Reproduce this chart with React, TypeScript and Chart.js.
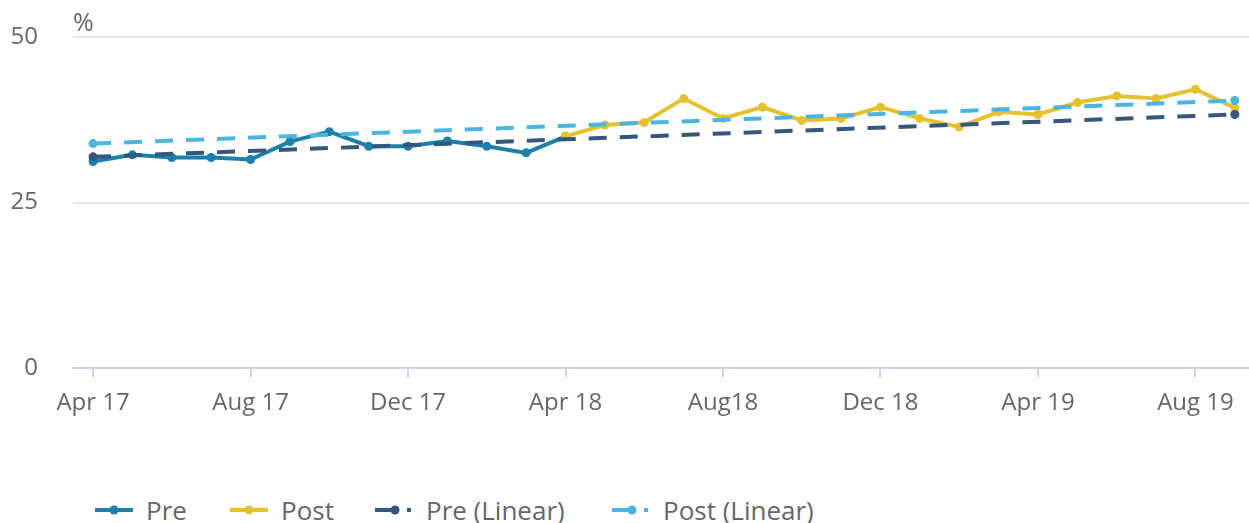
import React, { useEffect, useRef } from "react";
import { Chart, registerables } from "chart.js";

Chart.register(...registerables);

const months = [
  "Apr 17", "May 17", "Jun 17", "Jul 17", "Aug 17", "Sep 17", "Oct 17", "Nov 17", "Dec 17", "Jan 18",
  "Feb 18", "Mar 18", "Apr 18", "May 18", "Jun 18", "Jul 18", "Aug18", "Sep 18", "Oct 18", "Nov 18",
  "Dec 18", "Jan 19", "Feb 19", "Mar 19", "Apr 19", "May 19", "Jun 19", "Jul 19", "Aug 19", "Sep 19",
];
const tickMonths = ["Apr 17", "Aug 17", "Dec 17", "Apr 18", "Aug18", "Dec 18", "Apr 19", "Aug 19"];

const preStart = "Apr 17";
const preValues = [31.2, 32.2, 31.8, 31.8, 31.5, 34.2, 35.7, 33.5, 33.5, 34.3, 33.5, 32.5, 35.0];

const postStart = "Apr 18";
const postValues = [35.0, 36.7, 37.1, 40.7, 37.7, 39.4, 37.4, 37.7, 39.4, 37.7, 36.4, 38.7, 38.3, 40.1, 41.1, 40.7, 42.1, 39.3];

const trendMonths = ["Apr 17", "Sep 19"];
const preLinear = [31.9, 38.3];
const postLinear = [33.9, 40.4];

const yTicks = [0, 25, 50];
const yUnit = "%";

const COLORS = {
  pre: "#1c80a9",
  post: "#e5c12f",
  preLin: "#35577b",
  postLin: "#4cb4e0",
};

const FONT = '"Open Sans", "Noto Sans", sans-serif';

function series(start: string, values: number[]) {
  const s = months.indexOf(start);
  return values.map((v, i) => ({ x: s + i, y: v }));
}
function trend(values: number[]) {
  return values.map((v, i) => ({ x: months.indexOf(trendMonths[i]), y: v }));
}

const legendItems = [
  { label: "Pre", color: COLORS.pre, dashed: false, left: 95 },
  { label: "Post", color: COLORS.post, dashed: false, left: 230 },
  { label: "Pre (Linear)", color: COLORS.preLin, dashed: true, left: 375 },
  { label: "Post (Linear)", color: COLORS.postLin, dashed: true, left: 612 },
];

export default function App() {
  const ref = useRef<HTMLCanvasElement | null>(null);

  useEffect(() => {
    if (!ref.current) return;
    const unitPlugin = {
      id: "unitLabel",
      afterDraw(chart: any) {
        const { ctx, chartArea } = chart;
        ctx.save();
        ctx.font = `25px ${FONT}`;
        ctx.fillStyle = "#666666";
        ctx.textAlign = "left";
        ctx.textBaseline = "alphabetic";
        ctx.fillText(yUnit, chartArea.left, chartArea.top - 6);
        ctx.restore();
      },
    };
    const line = (label: string, data: any[], color: string, order: number, dashed: boolean) => ({
      label,
      data,
      borderColor: color,
      backgroundColor: color,
      pointBackgroundColor: color,
      pointBorderColor: color,
      pointBorderWidth: 0,
      pointRadius: 4.5,
      borderWidth: 4,
      borderDash: dashed ? [18, 13] : [],
      tension: 0,
      fill: false,
      order,
      clip: false as any,
    });
    const chart = new Chart(ref.current, {
      type: "line",
      data: {
        datasets: [
          line("Pre", series(preStart, preValues), COLORS.pre, 3, false),
          line("Post", series(postStart, postValues), COLORS.post, 2, false),
          line("Pre (Linear)", trend(preLinear), COLORS.preLin, 1, true),
          line("Post (Linear)", trend(postLinear), COLORS.postLin, 0, true),
        ],
      },
      options: {
        animation: false,
        responsive: true,
        maintainAspectRatio: false,
        layout: { autoPadding: false, padding: { top: 37, left: 0, right: 0, bottom: 0 } },
        plugins: { legend: { display: false }, tooltip: { enabled: false } },
        scales: {
          x: {
            type: "linear",
            min: -0.51,
            max: 29.36,
            afterBuildTicks: (scale: any) => {
              scale.ticks = tickMonths.map((m) => ({ value: months.indexOf(m) }));
            },
            afterFit: (scale: any) => {
              scale.height = 72;
              scale.paddingLeft = 0;
              scale.paddingRight = 0;
            },
            ticks: {
              autoSkip: false,
              maxRotation: 0,
              color: "#666666",
              font: { family: FONT, size: 24 },
              padding: 12,
              callback: (v: any) => months[Math.round(Number(v))],
            },
            grid: {
              display: true,
              drawOnChartArea: false,
              drawTicks: true,
              tickLength: 9,
              color: "#ccd6eb",
              lineWidth: 2,
            },
            border: { display: true, color: "#ccd6eb", width: 2 },
          },
          y: {
            min: 0,
            max: 50,
            afterBuildTicks: (scale: any) => {
              scale.ticks = yTicks.map((v) => ({ value: v }));
            },
            afterFit: (scale: any) => {
              scale.width = 73;
              scale.paddingTop = 0;
              scale.paddingBottom = 0;
            },
            ticks: {
              color: "#666666",
              font: { family: FONT, size: 24 },
              padding: 35,
            },
            grid: {
              drawTicks: false,
              color: (c: any) => (c.tick && c.tick.value === 0 ? "rgba(0,0,0,0)" : "#e6e6e6"),
              lineWidth: 2,
            },
            border: { display: false },
          },
        },
      },
      plugins: [unitPlugin],
    });
    return () => chart.destroy();
  }, []);

  return (
    <div style={{ position: "absolute", left: 0, top: 0, width: 1249, height: 523, background: "#fff", fontFamily: FONT }}>
      <div style={{ position: "absolute", left: 0, top: 0, width: 1249, height: 440 }}>
        <canvas ref={ref} />
      </div>
      {legendItems.map((it) => (
        <div
          key={it.label}
          style={{
            position: "absolute",
            left: it.left,
            top: 497,
            height: 26,
            display: "flex",
            alignItems: "center",
            whiteSpace: "nowrap",
          }}
        >
          <svg width={40} height={12} style={{ display: "block", marginRight: 11 }}>
            <line
              x1={0}
              y1={6}
              x2={it.dashed ? 40 : 38}
              y2={6}
              stroke={it.color}
              strokeWidth={4}
              strokeDasharray={it.dashed ? "22 10 4 10" : undefined}
            />
            <circle cx={it.dashed ? 20 : 19} cy={6} r={4.5} fill={it.color} />
          </svg>
          <span style={{ fontSize: 26, lineHeight: "26px", color: "#666666" }}>{it.label}</span>
        </div>
      ))}
    </div>
  );
}
